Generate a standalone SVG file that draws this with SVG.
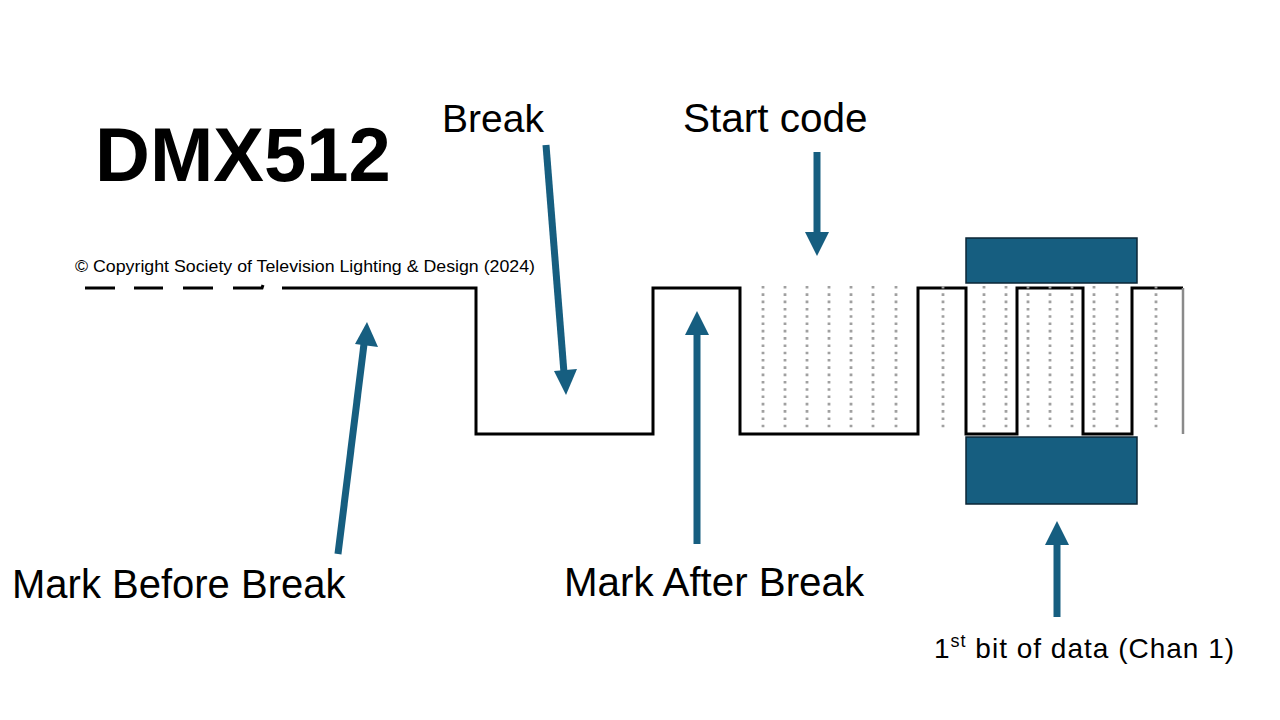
<svg xmlns="http://www.w3.org/2000/svg" width="1280" height="720" viewBox="0 0 1280 720">
<defs>
<style>
.lbl{font-family:"Liberation Sans",Arial,sans-serif;fill:#000;}
.wave{fill:none;stroke:#000;stroke-width:3;stroke-linejoin:miter;}
.dots{stroke:#a0a0a0;stroke-width:2.8;stroke-dasharray:2.6 4.7;fill:none;}
.arr{stroke:#165e80;stroke-width:7;fill:none;}
.head{fill:#165e80;}
.box{fill:#165e80;stroke:#0b2636;stroke-width:1.5;}
</style>
</defs>
<rect width="1280" height="720" fill="#fff"/>
<g id="title"><text class="lbl" x="95" y="181" font-size="76" font-weight="bold">DMX512</text></g>
<g id="copyright"><text class="lbl" x="75" y="272" font-size="16.5" textLength="460" lengthAdjust="spacingAndGlyphs">© Copyright Society of Television Lighting &amp; Design (2024)</text></g>
<g id="waveform">
<path class="wave" d="M85,288H115M134,288H163M183,288H213M233,288H262L263,285" />
<path class="wave" d="M282,288H476V434H653V288H740V434H918V288H966V434H1017V288H1083V434H1132V288H1183"/>
<line x1="1183" y1="288" x2="1183" y2="434" stroke="#8a8a8a" stroke-width="2.5"/>
<g id="dotted">
<path class="dots" d="M763,286V428M785,286V428M807,286V428M829,286V428M851,286V428M873,286V428M896,286V428"/>
<path class="dots" d="M943,286V428M984,286V428M1006,286V428M1028,286V428M1050,286V428M1072,286V428M1094,286V428M1117,286V428M1156,286V428"/>
</g>
</g>
<g id="bit-boxes">
<rect class="box" x="966" y="238" width="171" height="45"/>
<rect class="box" x="966" y="437" width="171" height="67"/>
</g>
<g id="labels">
<text class="lbl" x="442" y="132" font-size="39">Break</text>
<text class="lbl" x="683" y="132" font-size="40.5">Start code</text>
<text class="lbl" x="12" y="598" font-size="40">Mark Before Break</text>
<text class="lbl" x="564" y="596" font-size="40.3">Mark After Break</text>
<text class="lbl" x="934" y="658" font-size="28" letter-spacing="1">1<tspan font-size="18" dy="-11">st</tspan><tspan dy="11"> bit of data (Chan 1)</tspan></text>
</g>
<g id="connectors">
<line class="arr" x1="338" y1="554" x2="364" y2="344"/>
<polygon class="head" points="367,322 378,347 355,344"/>
<line class="arr" x1="546" y1="145" x2="564" y2="373"/>
<polygon class="head" points="566,395 554,371 577,369"/>
<line class="arr" x1="817" y1="152" x2="817" y2="233"/>
<polygon class="head" points="817,256 805,232 829,232"/>
<line class="arr" x1="697" y1="544" x2="697" y2="334"/>
<polygon class="head" points="697,311 685,335 709,335"/>
<line class="arr" x1="1057" y1="617" x2="1057" y2="544"/>
<polygon class="head" points="1057,521 1045,545 1069,545"/>
</g>
</svg>
